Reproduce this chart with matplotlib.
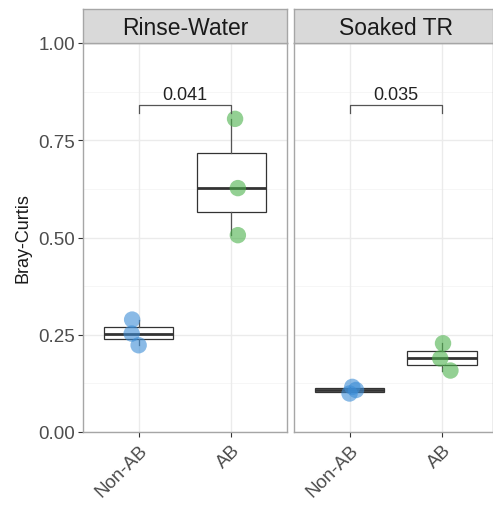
import matplotlib
matplotlib.use("Agg")
import matplotlib.pyplot as plt
import numpy as np

plt.rcParams['font.family'] = ['Liberation Sans', 'DejaVu Sans']

# ---------------- datos ----------------
paneles = ['Rinse-Water', 'Soaked TR']
grupos = ['Non-AB', 'AB']

rinse_nonab = [0.289, 0.253, 0.223]
rinse_ab = [0.805, 0.627, 0.506]
soaked_nonab = [0.116, 0.108, 0.099]
soaked_ab = [0.228, 0.189, 0.158]

# desplazamiento horizontal de cada punto
jit_rinse_nonab = [-0.07, -0.075, 0.0]
jit_rinse_ab = [0.04, 0.07, 0.07]
jit_soaked_nonab = [0.03, 0.07, 0.0]
jit_soaked_ab = [0.01, -0.02, 0.09]

p_valores = ['0.041', '0.035']

datos = [[rinse_nonab, rinse_ab], [soaked_nonab, soaked_ab]]
jitters = [[jit_rinse_nonab, jit_rinse_ab], [jit_soaked_nonab, jit_soaked_ab]]

colores = ['#3C8DD6', '#4CB24C']
borde = '#A6A6A6'
gris_txt = '#4D4D4D'

fig = plt.figure(figsize=(4.93, 5.06), dpi=100)
W, H = 493, 506

def caja(px0, py0, px1, py1):
    return [px0 / W, 1 - py1 / H, (px1 - px0) / W, (py1 - py0) / H]

paneles_px = [(83, 287, 2.6), (294, 493, 2.55)]

for i, (x0, x1, xmax) in enumerate(paneles_px):
    ax = fig.add_axes(caja(x0, 44, x1, 433))
    ax.set_xlim(0.4, xmax)
    ax.set_ylim(0, 1)

    # grilla
    for y in [0.125, 0.375, 0.625, 0.875]:
        ax.axhline(y, color='#F5F5F5', lw=0.6, zorder=0)
    for y in [0, 0.25, 0.5, 0.75, 1.0]:
        ax.axhline(y, color='#EBEBEB', lw=1.0, zorder=0)
    for x in [1, 2]:
        ax.axvline(x, color='#EBEBEB', lw=1.0, zorder=0)

    # cajas
    ax.boxplot(datos[i], positions=[1, 2], widths=0.75, whis=1.5,
               showfliers=False, patch_artist=True,
               boxprops=dict(facecolor='white', edgecolor='#333333', lw=0.9),
               whiskerprops=dict(color='#555555', lw=0.9),
               capprops=dict(lw=0), medianprops=dict(color='#333333', lw=2.0),
               zorder=2)

    # puntos
    for g in range(2):
        xs = np.array(jitters[i][g]) + g + 1
        ax.scatter(xs, datos[i][g], s=140, color=colores[g], alpha=0.6,
                   edgecolors='none', zorder=3)

    # comparacion
    ax.plot([1, 1, 2, 2], [0.82, 0.84, 0.84, 0.82], color='#555555', lw=0.9, zorder=4)
    ax.text(1.5, 0.847, p_valores[i], ha='center', va='bottom', fontsize=13,
            color='#222222')

    ax.set_xticks([1, 2])
    ax.set_xticklabels(grupos, rotation=45, ha='right', va='top',
                       rotation_mode='anchor', fontsize=13.5, color=gris_txt)
    ax.tick_params(axis='x', length=3.5, color='#333333', pad=3)
    if i == 0:
        ax.set_yticks([0, 0.25, 0.5, 0.75, 1.0])
        ax.set_yticklabels(['0.00', '0.25', '0.50', '0.75', '1.00'],
                           fontsize=13.5, color=gris_txt)
        ax.tick_params(axis='y', length=3.5, color='#333333', pad=2)
        ax.set_ylabel('Bray-Curtis', fontsize=13, color='#1A1A1A', labelpad=5)
    else:
        ax.set_yticks([])
    for s in ax.spines.values():
        s.set_color(borde)
        s.set_linewidth(1.0)

    # tira del titulo
    st = fig.add_axes(caja(x0, 10, x1, 44))
    st.set_facecolor('#D9D9D9')
    st.set_xticks([])
    st.set_yticks([])
    for s in st.spines.values():
        s.set_color(borde)
        s.set_linewidth(1.0)
    cx = (1.5 - 0.4) / (xmax - 0.4)
    st.text(cx, 0.46, paneles[i], transform=st.transAxes, ha='center',
            va='center', fontsize=16.5, color='#1A1A1A')

fig.savefig('out.png', dpi=100)
